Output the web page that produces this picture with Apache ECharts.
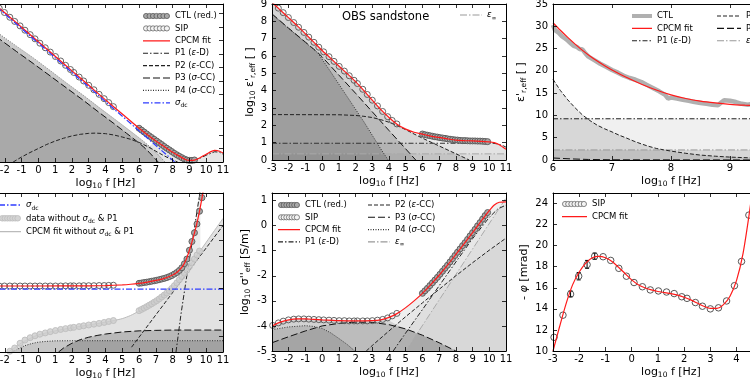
<!DOCTYPE html>
<html><head><meta charset="utf-8">
<script src="https://cdn.jsdelivr.net/npm/echarts@6/dist/echarts.min.js"></script>
<style>html,body{margin:0;padding:0;background:#fff}#c{width:750px;height:380px}</style>
</head><body><div id="c"></div>
<script>
// ---------------- DATA ----------------
const sipLogF = [-2.96,-2.62,-2.33,-2.02,-1.7,-1.41,-1.09,-0.8,-0.49,-0.2,0.09,0.41,0.71,1.02,1.33,1.62,1.91,2.11,2.43,2.7,3.0,3.31,3.62,3.92,4.19,4.47];
const ctlLogF = [6.0,6.15,6.3,6.45,6.6,6.75,6.9,7.05,7.2,7.35,7.5,7.65,7.8,7.95,8.1,8.25,8.4,8.55,8.7,8.85,9.0,9.15,9.3,9.45,9.6,9.75,9.9];

// panel A (top left)
const aSip = [12.06,11.7,11.39,11.07,10.72,10.41,10.08,9.76,9.43,9.12,8.8,8.46,8.14,7.81,7.48,7.16,6.85,6.63,6.29,6.0,5.68,5.35,5.01,4.69,4.4,4.1];
const aCtl = [2.5,2.36,2.22,2.08,1.94,1.81,1.68,1.55,1.42,1.29,1.15,1.02,0.9,0.77,0.64,0.53,0.42,0.32,0.22,0.15,0.12,0.12,0.15];
const aFit = [[-3,12.1],[-2,11.05],[-1,9.98],[0,8.9],[1,7.83],[2,6.75],[3,5.68],[4,4.6],[5,3.55],[6,2.5],[7,1.55],[7.5,1.15],[8,0.72],[8.5,0.36],[8.8,0.17],[9,0.12],[9.3,0.14],[9.6,0.3],[10,0.58],[10.5,0.86],[10.8,0.8],[11,0.66]];
const aSdc = [[-3,12.05],[8.13,0]];
const aP1 = [[8.6,0],[9.2,0.1],[9.6,0.27],[10,0.5],[10.5,0.76],[10.8,0.72],[11,0.58]];
const aP2 = [[-1.5,0],[-1,0.37],[-0.5,0.7],[0,1.0],[0.5,1.3],[1,1.55],[1.5,1.76],[2,1.93],[2.5,2.05],[3,2.12],[3.4,2.14],[4,2.1],[4.5,2.0],[5,1.85],[5.5,1.68],[6,1.45],[6.5,1.15],[7,0.8],[7.5,0.45],[8,0.15],[8.3,0]];
const aP3 = [[-3,9.7],[-2.29,9.08],[-1.3,8.18],[-0.3,7.29],[0.7,6.38],[1.68,5.48],[2.7,4.55],[3.67,3.62],[4.5,2.85],[5.25,2.13],[5.8,1.6],[6.25,1.14],[6.6,0.72],[6.84,0.4],[7.14,0]];
const aP4 = [[-3,10.1],[-2.29,9.45],[-1.3,8.58],[-0.3,7.71],[0.7,6.78],[1.68,5.85],[2.7,4.92],[3.67,3.99],[4.7,3.03],[5.65,2.13],[6.2,1.6],[6.64,1.14],[7.0,0.72],[7.24,0.4],[7.54,0]];
const aLight = [[6.6,1.15],[7,1.55],[7.5,1.15],[8,0.72],[8.5,0.36],[8.8,0.17],[9,0.12],[9.3,0.14],[9.6,0.3],[10,0.58],[10.5,0.86],[10.8,0.8],[11,0.66]];

// panel B (top middle, log10 eps')
const bFit = [[-3,9.1],[-2.5,8.65],[-2,8.2],[-1.5,7.75],[-1,7.28],[-0.5,6.8],[0,6.32],[0.5,5.88],[1,5.42],[1.5,4.98],[2,4.52],[2.5,4.0],[3,3.45],[3.5,2.92],[4,2.45],[4.5,2.05],[5,1.78],[5.5,1.6],[6,1.49],[6.5,1.38],[7,1.3],[7.5,1.22],[8,1.15],[8.5,1.12],[9,1.1],[9.5,1.08],[10,1.05],[10.3,1.0],[10.6,0.88],[11,0.62]];
const bSip = [9.06,8.76,8.5,8.22,7.93,7.66,7.36,7.09,6.79,6.51,6.24,5.96,5.69,5.4,5.13,4.86,4.6,4.41,4.08,3.78,3.45,3.12,2.8,2.5,2.28,2.08];
const bCtl = [1.5,1.46,1.43,1.4,1.37,1.34,1.32,1.29,1.27,1.25,1.22,1.2,1.18,1.16,1.15,1.13,1.12,1.12,1.11,1.1,1.1,1.1,1.09,1.09,1.08,1.07,1.06];
const bP1 = [[-3,0.966],[10.2,0.966],[10.5,0.93],[10.8,0.84],[11,0.74]];
const bEinf = [[-3,0.354],[11,0.354]];
const bP2 = [[-3,2.62],[1,2.61],[2,2.57],[2.5,2.52],[3,2.45],[3.5,2.33],[4,2.18],[4.5,1.98],[5,1.75],[5.5,1.5],[6,1.26],[7,0.81],[8,0.36],[8.8,0]];
const bP3 = [[-3,8.43],[-2,7.6],[-1,6.8],[-0.26,6.2],[0,5.95],[1,4.9],[2,3.85],[3,2.78],[4,1.7],[5,0.64],[5.6,0]];
const bP4 = [[-3,8.41],[-2,7.58],[-1,6.78],[-0.26,6.18],[0.5,5.1],[1.5,3.65],[2.5,2.2],[3.5,0.65],[3.95,0]];
const bBand = [[-3,9.1],[-2,8.2],[-1,7.28],[0,6.32],[1,5.42],[2,4.52],[3,3.45],[3.5,2.92],[4,2.3],[4.5,2.0],[5,1.75],[6,1.26],[7,0.81],[8,0.36],[8.8,0]];

// panel C (top right, eps' linear)
const cFit = [[6,30.8],[6.125,29.1],[6.25,27.5],[6.375,26.0],[6.5,24.6],[6.625,23.35],[6.75,22.2],[6.875,21.15],[7,20.2],[7.25,18.5],[7.5,17.0],[7.75,15.7],[8,14.6],[8.25,13.8],[8.5,13.2],[8.75,12.8],[9,12.5],[9.25,12.3],[9.5,12.15],[9.75,12.05],[10,11.95]];
const cCtl = [[6.0,30.3],[6.03,29.2],[6.06,28.8],[6.1,28.5],[6.15,27.8],[6.2,27.3],[6.25,26.8],[6.3,26.2],[6.35,25.6],[6.4,25.4],[6.45,24.9],[6.5,24.8],[6.55,23.9],[6.6,23.2],[6.7,22.4],[6.8,21.6],[6.9,20.9],[7.0,20.2],[7.1,19.6],[7.2,18.9],[7.3,18.4],[7.4,18.0],[7.5,17.5],[7.6,16.8],[7.7,16.1],[7.8,15.4],[7.9,14.6],[7.95,13.8],[8.0,14.0],[8.1,13.8],[8.2,13.5],[8.3,13.3],[8.4,13.0],[8.5,12.8],[8.6,12.6],[8.7,12.4],[8.8,12.3],[8.85,12.9],[8.9,13.4],[9.0,13.3],[9.1,13.0],[9.2,12.6],[9.3,12.4],[9.4,12.6]];
const cP1 = [[6,9.25],[10,9.25]];
const cEinf = [[6,2.26],[10,2.26]];
const cP2 = [[6,18.1],[6.125,15.6],[6.25,13.5],[6.375,11.7],[6.5,10.1],[6.625,8.85],[6.75,7.8],[6.875,7.0],[7,6.3],[7.125,5.55],[7.25,4.9],[7.375,4.2],[7.5,3.6],[7.625,3.05],[7.75,2.6],[7.875,2.28],[8,2.0],[8.25,1.5],[8.5,1.1],[8.75,0.85],[9,0.65],[9.5,0.4],[10,0.25]];
const cP3 = [[6,0.45],[6.3,0.25],[6.6,0.12],[7,0.05],[10,0.0]];

// panel D (bottom left)
const dFit = [[-3,4.15],[0,4.15],[3,4.16],[4,4.18],[5,4.22],[5.5,4.26],[6,4.32],[6.5,4.4],[7,4.5],[7.5,4.63],[8,4.84],[8.3,5.05],[8.6,5.4],[8.8,5.8],[9,6.4],[9.2,7.1],[9.4,7.9],[9.6,8.85],[9.8,10.0],[9.9,10.6]];
const dSip = [4.15,4.15,4.15,4.15,4.15,4.15,4.15,4.15,4.15,4.15,4.15,4.15,4.15,4.15,4.15,4.16,4.16,4.16,4.16,4.17,4.17,4.17,4.18,4.18,4.19,4.2];
const dCtl = [4.32,4.34,4.37,4.39,4.42,4.45,4.48,4.51,4.55,4.59,4.63,4.68,4.74,4.81,4.9,5.0,5.13,5.3,5.55,5.85,6.4,6.95,7.5,8.05,8.85,9.7];
const dWoSip = [null,null,null,null,0.05,0.25,0.55,0.75,0.9,1.02,1.12,1.2,1.28,1.35,1.42,1.47,1.52,1.55,1.6,1.65,1.7,1.75,1.8,1.86,1.92,1.98];
const dWoCtl = [2.6,2.68,2.76,2.85,2.94,3.03,3.13,3.23,3.34,3.46,3.58,3.71,3.85,4.0,4.17,4.35,4.55,4.75,4.95,5.15,5.38,5.6,5.85,6.1,6.35];
const dFitWo = [[-1.8,0],[-1.5,0.2],[-1,0.58],[-0.5,0.85],[0,1.08],[1,1.33],[2,1.53],[3,1.7],[4,1.88],[4.5,1.98],[5,2.1],[5.5,2.3],[6,2.58],[6.5,2.9],[7,3.25],[7.5,3.6],[8,4.05],[8.5,4.72],[9,5.42],[9.5,6.15],[10,6.9],[10.5,7.65],[11,8.4]];
const dSdc = [[-3,3.96],[11,3.96]];
const dP1 = [[8.2,0],[8.5,2.4],[8.8,4.5],[9.1,6.5],[9.4,8.5],[9.65,10.2]];
const dP2 = [[5.55,0.3],[11,7.95]];
const dP3 = [[1.2,0],[1.5,0.25],[2,0.55],[2.5,0.78],[3,0.93],[3.5,1.04],[4,1.13],[5,1.26],[6,1.33],[7,1.36],[8,1.38],[11,1.38]];
const dP4 = [[-1.6,0],[-1.2,0.2],[-0.8,0.4],[-0.4,0.53],[0,0.62],[0.5,0.67],[1,0.7],[2,0.71],[11,0.71]];

// panel E (bottom middle, log10 sigma'')
const eFit = [[-3,-4.0],[-2.5,-3.85],[-2,-3.76],[-1.5,-3.72],[-1,-3.72],[-0.5,-3.74],[0,-3.76],[1,-3.79],[2,-3.8],[3,-3.79],[3.5,-3.76],[4,-3.66],[4.5,-3.5],[5,-3.27],[5.5,-3.0],[6,-2.7],[6.5,-2.35],[7,-1.98],[7.5,-1.58],[8,-1.15],[8.5,-0.72],[9,-0.28],[9.5,0.17],[10,0.6],[10.3,0.82],[10.6,0.93],[11,0.95]];
const eSip = [-3.98,-3.88,-3.81,-3.76,-3.73,-3.72,-3.72,-3.73,-3.74,-3.75,-3.76,-3.77,-3.78,-3.79,-3.79,-3.8,-3.8,-3.8,-3.8,-3.8,-3.79,-3.77,-3.74,-3.68,-3.6,-3.5];
const eCtl = [-2.7,-2.6,-2.5,-2.39,-2.28,-2.17,-2.06,-1.94,-1.82,-1.7,-1.58,-1.45,-1.32,-1.19,-1.06,-0.93,-0.8,-0.68,-0.55,-0.41,-0.28,-0.15,-0.01,0.12,0.26,0.4,0.52];
const eP1 = [[4.25,-5],[5,-4.28],[6,-3.35],[7,-2.4],[8,-1.45],[9,-0.52],[10,0.33],[10.5,0.66],[11,0.82]];
const eP2 = [[2.64,-5],[3,-4.78],[4,-4.2],[5,-3.63],[6,-3.08],[7,-2.54],[8,-2.0],[9,-1.48],[10,-0.98],[11,-0.5]];
const eP3 = [[-3,-4.67],[-2,-4.43],[-1,-4.2],[0,-4.0],[1,-3.9],[2,-3.85],[3,-3.86],[4,-3.95],[5,-4.12],[6,-4.37],[7,-4.67],[8,-5.0]];
const eP4 = [[-3,-4.15],[-2,-4.04],[-1,-3.99],[-0.5,-4.02],[0,-4.1],[0.5,-4.27],[1,-4.5],[1.5,-4.74],[1.95,-5.0]];
const eEinf = [[5.0,-5.0],[11,1.1]];
const eBand = [[-3,-4.0],[-2.5,-3.85],[-2,-3.76],[-1.5,-3.72],[-1,-3.72],[-0.5,-3.74],[0,-3.76],[1,-3.79],[2,-3.8],[3,-3.79],[3.5,-3.76],[3.8,-3.7],[4.5,-3.97],[5,-4.12],[6,-4.37],[7,-4.67],[8,-5.0]];

// panel F (bottom right, phase)
const fFit = [[-3,10.0],[-2.75,12.3],[-2.5,14.5],[-2.25,16.3],[-2,17.5],[-1.75,18.35],[-1.5,18.85],[-1.25,18.98],[-1,18.85],[-0.75,18.5],[-0.5,17.95],[-0.25,17.35],[0,16.75],[0.25,16.3],[0.5,16.0],[0.75,15.8],[1,15.65],[1.25,15.55],[1.5,15.45],[1.75,15.3],[2,15.1],[2.25,14.85],[2.5,14.55],[2.75,14.25],[3,14.05],[3.25,14.05],[3.5,14.4],[3.75,15.2],[4,16.7],[4.25,19.3],[4.5,23.3],[4.75,28]];
const fSip = [11.3,13.4,15.4,17.1,18.2,19.0,18.95,18.6,17.85,17.1,16.5,16.1,15.8,15.7,15.6,15.45,15.15,15.0,14.6,14.25,14.0,14.1,14.75,16.2,18.5,22.9];
const errLogF = [-2.33,-2.02,-1.7,-1.41];
const errLow = [15.15,16.75,17.85,18.7];
const errHigh = [15.7,17.45,18.6,19.3];

// ---------------- BUILD ----------------
const FONT = "DejaVu Sans";
function zip(xs, ys){ const o=[]; for(let i=0;i<ys.length;i++){ if(ys[i]!==null) o.push([xs[i], ys[i]]); } return o; }

const panels = [
  {left:-12, top:4, width:235, height:158, xmin:-3, xmax:11, ymin:0, ymax:11.7, yint:1, ylab:false},
  {left:272, top:4, width:234, height:156, xmin:-3, xmax:11, ymin:0, ymax:9, yint:1, ylab:true, yname:"log{sub|10} ε'{sub|r,eff} [ ]", gap:13.5},
  {left:553, top:4, width:236, height:156, xmin:6, xmax:10, ymin:0, ymax:35, yint:5, ylab:true, yname:"ε'{sub|r,eff} [ ]", gap:25},
  {left:-12, top:193, width:235, height:159, xmin:-3, xmax:11, ymin:0, ymax:10, yint:1, ylab:false},
  {left:272, top:193, width:234, height:158, xmin:-3, xmax:11, ymin:-5, ymax:1.3, yint:1, ylab:true, hideMax:true, yname:"log{sub|10} σ''{sub|eff} [S/m]", gap:20},
  {left:553, top:193, width:236, height:158, xmin:-3, xmax:6, ymin:10, ymax:25, yint:2, ylab:true, hideMax:true, yname:"- {it|φ} [mrad]", gap:16}
];
const SUB = {fontFamily:FONT, fontSize:7.5, lineHeight:6, verticalAlign:'bottom', color:'#000'};
const IT = {fontFamily:FONT, fontSize:11, fontStyle:'italic', color:'#000'};
const NAMESTYLE = {fontFamily:FONT, fontSize:11, color:'#000', lineHeight:14, rich:{sub:SUB, it:IT}};

const grid=[], xAxis=[], yAxis=[];
panels.forEach((p,g)=>{
  grid.push({left:p.left, top:p.top, width:p.width, height:p.height, containLabel:false, outerBoundsMode:'none', show:false});
  const base = {type:'value', gridIndex:g, z:10, splitLine:{show:false},
    axisLine:{onZero:false, lineStyle:{color:'#000', width:1}},
    axisTick:{inside:true, length:4, lineStyle:{color:'#000', width:0.8}}};
  const lab = {color:'#000', fontFamily:FONT, fontSize:10};
  xAxis.push(Object.assign({}, base, {position:'bottom', min:p.xmin, max:p.xmax, interval:1,
    axisLabel:Object.assign({margin:3}, lab),
    name:'log{sub|10} f [Hz]', nameLocation:'middle', nameGap:14, nameTextStyle:NAMESTYLE}));
  xAxis.push(Object.assign({}, base, {position:'top', min:p.xmin, max:p.xmax, interval:1, axisLabel:{show:false}}));
  const yl = Object.assign({}, base, {position:'left', min:p.ymin, max:p.ymax, interval:p.yint,
    axisLabel:Object.assign({show:p.ylab, margin:5, showMaxLabel: p.hideMax ? false : null}, lab)});
  if (p.yname){ Object.assign(yl, {name:p.yname, nameLocation:'middle', nameRotate:90, nameGap:p.gap, nameTextStyle:NAMESTYLE}); }
  yAxis.push(yl);
  yAxis.push(Object.assign({}, base, {position:'right', min:p.ymin, max:p.ymax, interval:p.yint, axisLabel:{show:false}}));
});

function S(g,o){ return Object.assign({xAxisIndex:2*g, yAxisIndex:2*g, animation:false, silent:true}, o); }
function line(g,name,data,color,width,dash,z,smooth){
  return S(g,{type:'line', name:name, data:data, symbol:'none', smooth:smooth||false,
    lineStyle:{color:color, width:width, type:dash||'solid'}, itemStyle:{color:color}, z:z||3});
}
function fill(g,data,color){
  return S(g,{type:'line', data:data, symbol:'none', smooth:false,
    lineStyle:{width:0, opacity:0}, areaStyle:{color:color, opacity:1, origin:'start'}, z:1});
}
function dots(g,name,data,fillc,stroke,size,z){
  return S(g,{type:'scatter', name:name, data:data, symbol:'circle', symbolSize:size,
    itemStyle:{color:fillc, borderColor:stroke, borderWidth:0.9, opacity:1}, z:z||4});
}
const RED='#ff1a1a', BLUE='#2f3cff';
const D_P1=[5,2,1.5,2], D_P2=[4,2], D_P3=[7,3], D_P4=[1,1.5], D_DC=[6,2,1.5,2], D_EI=[7,2,1.5,2];
const CTLF='#a8a8a8', CTLS='#555', SIPF='rgba(255,255,255,0)', SIPS='#555';
const SM = 0.25;

const series = [];
// A
series.push(fill(0,aLight,'#e6e6e6'), fill(0,aP4,'#cbcbcb'), fill(0,aP3,'#a9a9a9'));
series.push(line(0,'P4 (σ-CC)',aP4,'#777',1,D_P4), line(0,'P3 (σ-CC)',aP3,'#111',1,D_P3),
  line(0,'P2 (ε-CC)',aP2,'#222',1,D_P2), line(0,'P1 (ε-D)',aP1,'#222',1,D_P1));
series.push(dots(0,'SIP',zip(sipLogF,aSip),SIPF,SIPS,6), dots(0,'CTL (red.)',zip(ctlLogF,aCtl),CTLF,CTLS,6));
series.push(line(0,'CPCM fit',aFit,RED,1.2,null,5,SM), line(0,'σdc',aSdc,BLUE,1.2,D_DC,6));
// B
series.push(fill(1,bFit,'#ececec'), fill(1,bBand,'rgba(0,0,0,0.1)'), fill(1,bP1,'rgba(0,0,0,0.035)'),
  fill(1,bEinf,'rgba(0,0,0,0.035)'), fill(1,bP3,'rgba(0,0,0,0.12)'), fill(1,bP4,'rgba(0,0,0,0.15)'));
series.push(line(1,'ε∞',bEinf,'#aaa',1,D_EI), line(1,'P1 (ε-D)',bP1,'#333',1,D_P1),
  line(1,'P2 (ε-CC)',bP2,'#222',1,D_P2), line(1,'P3 (σ-CC)',bP3,'#111',1,D_P3), line(1,'P4 (σ-CC)',bP4,'#333',1,D_P4));
series.push(dots(1,'SIP',zip(sipLogF,bSip),SIPF,SIPS,6), dots(1,'CTL (red.)',zip(ctlLogF,bCtl),CTLF,CTLS,6));
series.push(line(1,'CPCM fit',bFit,RED,1.2,null,5,SM));
// C
series.push(fill(2,cP1,'rgba(0,0,0,0.06)'), fill(2,cP2,'rgba(0,0,0,0.1)'), fill(2,cEinf,'rgba(0,0,0,0.1)'));
series.push(line(2,'ε∞',cEinf,'#999',1,D_EI), line(2,'P1 (ε-D)',cP1,'#222',1,D_P1),
  line(2,'P2 (ε-CC)',cP2,'#222',1,D_P2), line(2,'P3 (σ-CC)',cP3,'#111',1,D_P3));
series.push(line(2,'CTL',cCtl,'#b0b0b0',4.5,null,4));
series.push(line(2,'CPCM fit',cFit,RED,1.2,null,5,SM));
// D
series.push(fill(3,dP1,'#ebebeb'), fill(3,dP2,'#ebebeb'), fill(3,dFitWo,'#e2e2e2'),
  fill(3,dP3,'rgba(0,0,0,0.18)'), fill(3,dP4,'rgba(0,0,0,0.12)'));
series.push(line(3,'CPCM fit without σdc & P1',dFitWo,'#bbb',1,null,3,SM),
  line(3,'P1 (ε-D)',dP1,'#222',1,D_P1), line(3,'P2 (ε-CC)',dP2,'#222',1,D_P2),
  line(3,'P3 (σ-CC)',dP3,'#111',1,D_P3), line(3,'P4 (σ-CC)',dP4,'#333',1,D_P4));
series.push(dots(3,'data without σdc & P1',zip(sipLogF,dWoSip).concat(zip(ctlLogF,dWoCtl)),'rgba(205,205,205,0.8)','#bdbdbd',6,3));
series.push(dots(3,'SIP',zip(sipLogF,dSip),SIPF,SIPS,6), dots(3,'CTL (red.)',zip(ctlLogF,dCtl),CTLF,CTLS,6));
series.push(line(3,'σdc',dSdc,BLUE,1.2,D_DC,5), line(3,'CPCM fit',dFit,RED,1.2,null,6,SM));
// E
series.push(fill(4,eFit,'#efefef'), fill(4,eBand,'rgba(0,0,0,0.12)'), fill(4,eP2,'rgba(0,0,0,0.03)'),
  fill(4,eP1,'rgba(0,0,0,0.03)'), fill(4,eEinf,'rgba(0,0,0,0.03)'), fill(4,eP3,'rgba(0,0,0,0.1)'), fill(4,eP4,'rgba(0,0,0,0.12)'));
series.push(line(4,'ε∞',eEinf,'#aaa',1,D_EI), line(4,'P1 (ε-D)',eP1,'#222',1,D_P1),
  line(4,'P2 (ε-CC)',eP2,'#222',1,D_P2), line(4,'P3 (σ-CC)',eP3,'#111',1,D_P3), line(4,'P4 (σ-CC)',eP4,'#333',1,D_P4));
series.push(dots(4,'SIP',zip(sipLogF,eSip),SIPF,SIPS,6), dots(4,'CTL (red.)',zip(ctlLogF,eCtl),CTLF,CTLS,6));
series.push(line(4,'CPCM fit',eFit,RED,1.2,null,5,SM));
// F
series.push(dots(5,'SIP',zip(sipLogF,fSip),SIPF,'#444',6.5,4));
series.push(S(5,{type:'custom', data:errLogF.map((x,i)=>[x,errLow[i],errHigh[i]]), encode:{x:0,y:[1,2]}, z:4,
  renderItem:function(params, api){
    const x=api.value(0), lo=api.coord([x,api.value(1)]), hi=api.coord([x,api.value(2)]);
    const st={stroke:'#000', lineWidth:1};
    return {type:'group', children:[
      {type:'line', shape:{x1:lo[0],y1:lo[1],x2:hi[0],y2:hi[1]}, style:st},
      {type:'line', shape:{x1:lo[0]-2,y1:lo[1],x2:lo[0]+2,y2:lo[1]}, style:st},
      {type:'line', shape:{x1:hi[0]-2,y1:hi[1],x2:hi[0]+2,y2:hi[1]}, style:st}]};
  }}));
series.push(line(5,'CPCM fit',fFit,RED,1.2,null,5,SM));

// ---------------- LEGENDS ----------------
function svg(w,body){ return 'image://data:image/svg+xml;charset=utf-8,'+encodeURIComponent('<svg xmlns="http://www.w3.org/2000/svg" width="'+w+'" height="12" viewBox="0 0 '+w+' 12">'+body+'</svg>'); }
function icLine(w,color,sw,dash){ return svg(w,'<line x1="0" y1="6" x2="'+w+'" y2="6" stroke="'+color+'" stroke-width="'+sw+'"'+(dash?' stroke-dasharray="'+dash.join(',')+'"':'')+'/>'); }
function icDots(w,fillc,stroke,r){ let b=''; const n=7; for(let i=0;i<n;i++){ const cx=r+0.5+i*(w-2*r-1)/(n-1); b+='<circle cx="'+cx.toFixed(2)+'" cy="6" r="'+r+'" fill="'+fillc+'" stroke="'+stroke+'" stroke-width="0.8"/>'; } return svg(w,b); }
const NAMEFMT = {
  'σdc':'{it|σ}{sub|dc}', 'ε∞':'{it|ε}{sub|∞}',
  'P1 (ε-D)':'P1 ({it|ε}-D)', 'P2 (ε-CC)':'P2 ({it|ε}-CC)', 'P3 (σ-CC)':'P3 ({it|σ}-CC)', 'P4 (σ-CC)':'P4 ({it|σ}-CC)',
  'data without σdc & P1':'data without {it|σ}{sub|dc} & P1', 'CPCM fit without σdc & P1':'CPCM fit without {it|σ}{sub|dc} & P1'
};
const LRICH = {it:{fontFamily:FONT, fontSize:8.5, fontStyle:'italic', color:'#000'}, sub:{fontFamily:FONT, fontSize:6, lineHeight:5, verticalAlign:'bottom', color:'#000'}};
function icon(name,w){
  switch(name){
    case 'CTL (red.)': return icDots(w,'#a8a8a8','#555',2.6);
    case 'SIP': return icDots(w,'#f4f4f4','#666',2.6);
    case 'data without σdc & P1': return icDots(w,'#d4d4d4','#bdbdbd',2.8);
    case 'CPCM fit': return icLine(w,RED,1.3,null);
    case 'CPCM fit without σdc & P1': return icLine(w,'#bbb',1.2,null);
    case 'CTL': return icLine(w,'#b0b0b0',4,null);
    case 'P1 (ε-D)': return icLine(w,'#222',1.1,D_P1);
    case 'P2 (ε-CC)': return icLine(w,'#222',1.1,D_P2);
    case 'P3 (σ-CC)': return icLine(w,'#111',1.1,D_P3);
    case 'P4 (σ-CC)': return icLine(w,'#333',1.1,D_P4);
    case 'σdc': return icLine(w,BLUE,1.3,D_DC);
    case 'ε∞': return icLine(w,'#999',1.1,D_EI);
  }
}
function lg(left,top,w,gap,names){
  return {left:left, top:top, orient:'vertical', itemWidth:w, itemHeight:12, itemGap:gap, padding:0,
    selectedMode:false, symbolKeepAspect:false,
    textStyle:{fontFamily:FONT, fontSize:8.5, color:'#000', lineHeight:12, rich:LRICH},
    formatter:function(n){ return NAMEFMT[n] || n; },
    data:names.map(n=>({name:n, icon:icon(n,w)}))};
}
const legend = [
  lg(143,10,27,0.4,['CTL (red.)','SIP','CPCM fit','P1 (ε-D)','P2 (ε-CC)','P3 (σ-CC)','P4 (σ-CC)','σdc']),
  lg(460,9,22,0.4,['ε∞']),
  lg(632,10,20,0.4,['CTL','CPCM fit','P1 (ε-D)']),
  lg(717,10,24,0.4,['P2 (ε-CC)','P3 (σ-CC)','ε∞']),
  lg(-1,199,22,1.3,['σdc','data without σdc & P1','CPCM fit without σdc & P1']),
  lg(278,199,22,0.3,['CTL (red.)','SIP','CPCM fit','P1 (ε-D)']),
  lg(368,199,22,0.3,['P2 (ε-CC)','P3 (σ-CC)','P4 (σ-CC)','ε∞']),
  lg(562,198,25,0.7,['SIP','CPCM fit'])
];

const chart = echarts.init(document.getElementById('c'), null, {renderer:'canvas'});
chart.setOption({
  animation:false, backgroundColor:'#fff',
  title:{text:'OBS sandstone', left:342, top:11, padding:0, textStyle:{fontFamily:FONT, fontSize:11.5, fontWeight:'normal', color:'#000'}},
  grid:grid, xAxis:xAxis, yAxis:yAxis, legend:legend, series:series
});
</script></body></html>
